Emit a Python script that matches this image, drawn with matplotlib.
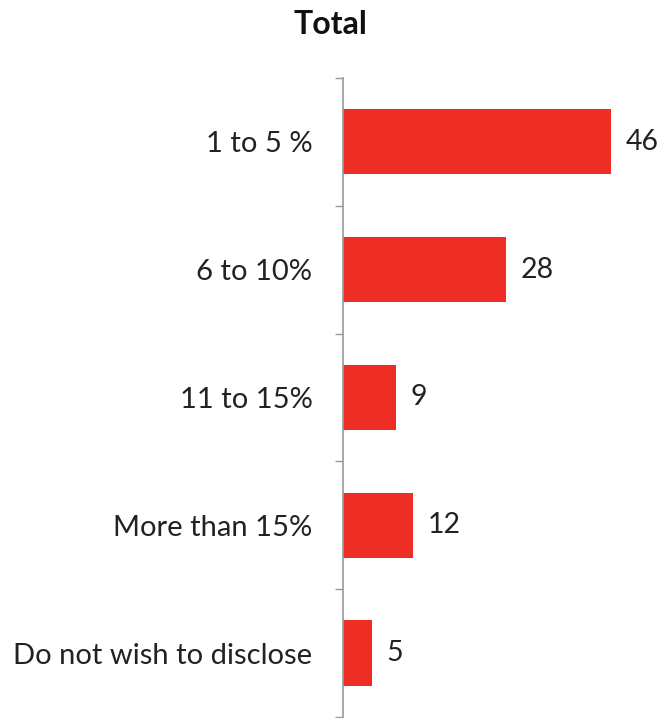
import matplotlib
matplotlib.use("Agg")
import matplotlib.pyplot as plt

categories = ["1 to 5 %", "6 to 10%", "11 to 15%", "More than 15%", "Do not wish to disclose"]
values = [46, 28, 9, 12, 5]

plt.rcParams['font.family'] = ['Lato', 'DejaVu Sans']

fig = plt.figure(figsize=(6.64, 7.18), dpi=100)
ax = fig.add_axes([343 / 664, 0.0015, 1 - 343 / 664, 1 - 78 / 718 - 0.0015])

pos = list(range(len(categories)))
ax.barh(pos, values, height=0.51, color="#EE2E24", zorder=2)
ax.set_ylim(len(categories) - 0.5, -0.5)
ax.set_xlim(0, 55)

# value labels just past the end of each bar
for p, v in zip(pos, values):
    ax.text(v + 2.5, p, str(v), va="center", ha="left", fontsize=20.5, color="#222222")

ax.set_yticks(pos)
ax.set_yticklabels(categories, fontsize=21, color="#222222")
ax.set_yticks([p - 0.5 for p in pos] + [len(categories) - 0.5], minor=True)
ax.tick_params(axis="y", which="major", length=0, pad=22)
ax.tick_params(axis="y", which="minor", length=6, width=1, color="#999999")
ax.set_xticks([])

for side in ["top", "right", "bottom"]:
    ax.spines[side].set_visible(False)
ax.spines["left"].set_color("#999999")
ax.spines["left"].set_linewidth(1.2)

fig.text(330 / 664, 1 - 25 / 718, "Total", ha="center", va="center",
         fontsize=23, fontweight="bold", color="#111111")

fig.savefig("out.png", dpi=100)
